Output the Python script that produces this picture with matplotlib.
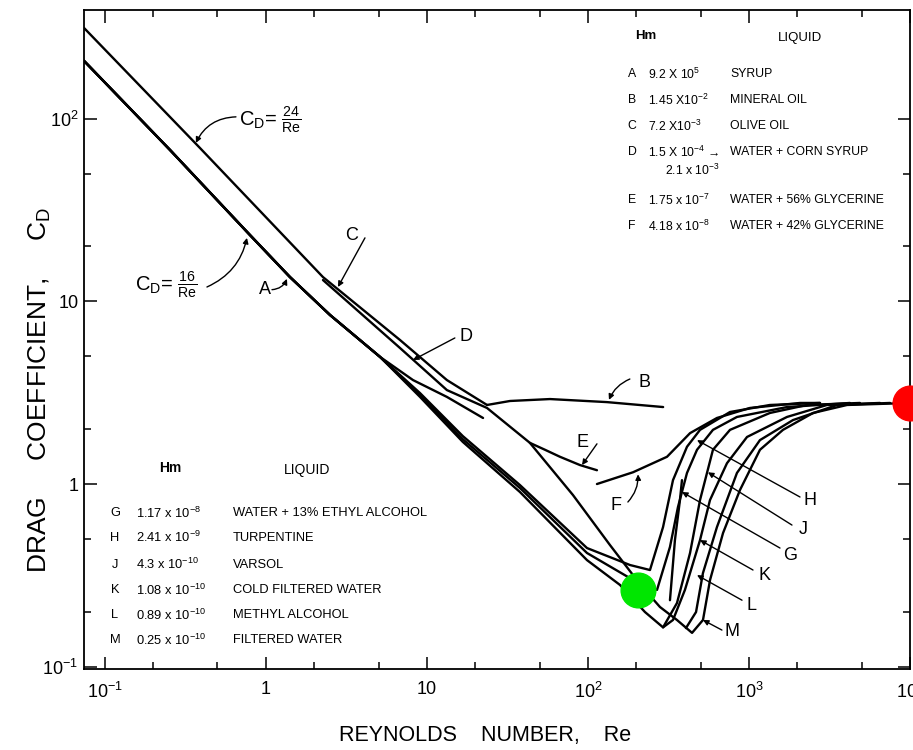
import matplotlib
matplotlib.use("Agg")
import matplotlib.pyplot as plt
from matplotlib import font_manager
from matplotlib.ticker import FixedLocator, NullFormatter


# Curves (Re, C_D)

# upper straight line (C_D = 24/Re) which carries on as curve C
re_upper = [0.0741, 0.389, 2.26, 6.80, 13.3, 23.6]
cd_upper = [315, 69.3, 13.6, 6.15, 3.71, 2.71]

# curve B (mineral oil)
re_B = [23.6, 32.8, 58.1, 131, 293]
cd_B = [2.71, 2.85, 2.92, 2.81, 2.64]

# second line of the upper pair, falls down to the minimum and rises as M
re_M = [2.26, 6.80, 13.3, 23.6, 43.6, 80.7, 137, 190.5, 232, 280, 357, 443,
        518, 573, 690, 879, 1170, 1626, 2500, 4064, 10000]
cd_M = [13.1, 5.56, 3.27, 2.61, 1.68, 0.870, 0.463, 0.317, 0.256, 0.212,
        0.180, 0.153, 0.180, 0.298, 0.539, 0.927, 1.54, 1.98, 2.45, 2.71, 2.78]

# lower straight line (C_D = 16/Re), common start of the lower bundle
re_16 = [0.0741, 0.2535, 0.796, 1.41, 2.50, 5.11]
cd_16 = [208, 67.6, 23.1, 13.6, 8.43, 4.97]

# curve D (short, ends near Re = 22)
re_D = re_16 + [8.19, 13.3, 22.3]
cd_D = cd_16 + [3.71, 3.00, 2.30]

# curve H
re_H = re_16 + [9.05, 16.7, 37.8, 98.6, 182.4, 242.7, 292.6, 337.3, 412.1,
                496.5, 762.3, 1349, 2761]
cd_H = cd_16 + [3.15, 1.83, 0.987, 0.446, 0.360, 0.338, 0.581, 1.05, 1.60,
                1.98, 2.48, 2.71, 2.78]

# middle line of the bundle
re_mid = re_16 + [9.05, 16.7, 37.8, 98.6, 182.4, 268.4, 323.0, 362.2, 412.1,
                  475.6, 597.3, 841.9, 1722, 4238]
cd_mid = cd_16 + [3.07, 1.76, 0.951, 0.419, 0.305, 0.263, 0.452, 0.748, 1.15,
                  1.54, 1.98, 2.33, 2.64, 2.78]

# curve K (lowest of the bundle)
re_K = re_16 + [9.05, 16.7, 37.8, 98.6, 158.1, 225.9, 292.6, 337.3, 400.1,
                496.5, 572.6, 730.0, 972.3, 1722, 3050, 6512]
cd_K = cd_16 + [3.00, 1.70, 0.904, 0.383, 0.280, 0.199, 0.164, 0.180, 0.263,
                0.493, 0.817, 1.30, 1.81, 2.33, 2.71, 2.78]

re_J = [292.6, 357.2, 430.5, 496.5, 597.3, 762.3, 1349, 2293, 4890]
cd_J = [0.164, 0.223, 0.419, 0.817, 1.54, 1.98, 2.45, 2.71, 2.78]

re_L = [406, 469, 517.6, 632.4, 841.9, 1170, 1876, 3522, 7516]
cd_L = [0.1625, 0.199, 0.325, 0.581, 1.15, 1.74, 2.24, 2.71, 2.78]

re_G = [323.0, 346.8, 372.6, 383.5]
cd_G = [0.231, 0.493, 0.817, 1.05]

re_E = [43.6, 54.1, 67.0, 89.2, 113.7]
cd_E = [1.68, 1.54, 1.41, 1.27, 1.19]

re_F = [113.7, 190.5, 309.7, 430.5, 632.4, 1014, 2074, 2761]
cd_F = [1.0, 1.16, 1.41, 1.90, 2.30, 2.61, 2.78, 2.78]

# coloured markers
re_green = [204.6]
cd_green = [0.263]
re_red = [10000]
cd_red = [2.78]

# axis ticks
x_major = [0.1, 1, 10, 100, 1000, 10000]
x_labels = ['10$^{-1}$', '1', '10', '10$^2$', '10$^3$', '10$^4$']
x_minor = [0.2, 0.5, 2, 5, 20, 50, 200, 500, 2000, 5000]
y_major = [0.1, 1, 10, 100]
y_labels = ['10$^{-1}$', '1', '10', '10$^2$']
y_minor = [0.2, 0.5, 2, 5, 20, 50]

# tables of liquids
top_letters = ['A', 'B', 'C', 'D', 'E', 'F']
top_hm = ['9.2 X 10$^5$', '1.45 X10$^{-2}$', '7.2 X10$^{-3}$',
          '1.5 X 10$^{-4}$ \u2192', '1.75 x 10$^{-7}$', '4.18 x 10$^{-8}$']
top_liquid = ['SYRUP', 'MINERAL OIL', 'OLIVE OIL', 'WATER + CORN SYRUP',
              'WATER + 56% GLYCERINE', 'WATER + 42% GLYCERINE']

bot_letters = ['G', 'H', 'J', 'K', 'L', 'M']
bot_hm = ['1.17 x 10$^{-8}$', '2.41 x 10$^{-9}$', '4.3 x 10$^{-10}$',
          '1.08 x 10$^{-10}$', '0.89 x 10$^{-10}$', '0.25 x 10$^{-10}$']
bot_liquid = ['WATER + 13% ETHYL ALCOHOL', 'TURPENTINE', 'VARSOL',
              'COLD FILTERED WATER', 'METHYL ALCOHOL', 'FILTERED WATER']


# Fonts (narrow face if there is one)

names = {f.name for f in font_manager.fontManager.ttflist}
font = 'Liberation Sans Narrow' if 'Liberation Sans Narrow' in names else 'Liberation Sans'
plt.rcParams['font.family'] = [font, 'DejaVu Sans']
plt.rcParams['mathtext.fontset'] = 'custom'
plt.rcParams['mathtext.rm'] = font
plt.rcParams['mathtext.it'] = font + ':italic'
plt.rcParams['mathtext.default'] = 'regular'


# Plot

fig = plt.figure(figsize=(9.13, 7.5), dpi=100)
ax = fig.add_axes([0.092, 0.108, 0.9047, 0.8787])
ax.set_xscale('log')
ax.set_yscale('log')
ax.set_xlim(0.0741, 1e4)
ax.set_ylim(0.097, 395)

curves = [(re_upper, cd_upper), (re_B, cd_B), (re_M, cd_M), (re_D, cd_D),
          (re_H, cd_H), (re_mid, cd_mid), (re_K, cd_K), (re_J, cd_J),
          (re_L, cd_L), (re_G, cd_G), (re_E, cd_E), (re_F, cd_F)]
for re, cd in curves:
    ax.plot(re, cd, color='black', lw=1.7, solid_joinstyle='round',
            solid_capstyle='round')

ax.plot(re_green, cd_green, 'o', color='#00e600', ms=25, zorder=5)
ax.plot(re_red, cd_red, 'o', color='#ff0000', ms=25, zorder=5, clip_on=False)

# ticks
ax.xaxis.set_major_locator(FixedLocator(x_major))
ax.set_xticklabels(x_labels)
ax.xaxis.set_minor_locator(FixedLocator(x_minor))
ax.xaxis.set_minor_formatter(NullFormatter())
ax.yaxis.set_major_locator(FixedLocator(y_major))
ax.set_yticklabels(y_labels)
ax.yaxis.set_minor_locator(FixedLocator(y_minor))
ax.yaxis.set_minor_formatter(NullFormatter())
ax.tick_params(which='both', direction='in', top=True, right=True, width=1.1)
ax.tick_params(which='major', length=9, labelsize=13)
ax.tick_params(which='minor', length=5)
ax.tick_params(axis='x', which='major', pad=9)
ax.tick_params(axis='y', which='major', pad=4)
for s in ax.spines.values():
    s.set_linewidth(1.3)

# axis titles
fig.text(0.531, 0.02, 'REYNOLDS    NUMBER,    Re', fontsize=15.5,
         ha='center', va='center')
fig.text(0.044, 0.48, 'DRAG     COEFFICIENT,     C$_D$', fontsize=19,
         rotation=90, ha='center', va='center')

# curve labels with leaders
arrow = dict(arrowstyle='-|>', color='black', lw=1.0, mutation_scale=8,
             shrinkA=0, shrinkB=0)


def leader(start, tip, rad):
    a = dict(arrow)
    a['connectionstyle'] = 'arc3,rad=%s' % rad
    ax.annotate('', xy=tip, xytext=start, arrowprops=a)


ax.text(0.68, 98.7, r'C$_D$= $\frac{24}{Re}$', fontsize=14.5, ha='left', va='center')
leader((0.651, 102.6), (0.367, 73.9), 0.3)
ax.text(0.1535, 12.3, r'C$_D$= $\frac{16}{Re}$', fontsize=14.5, ha='left', va='center')
leader((0.430, 12.0), (0.762, 22.3), 0.25)

labels = [('A', (0.99, 11.6), (1.09, 11.6), (1.35, 13.3), 0.3),
          ('C', (3.42, 23.1), (4.12, 22.3), (2.80, 12.0), 0.0),
          ('D', (17.5, 6.39), (14.9, 6.31), (8.19, 4.78), 0.0),
          ('B', (226, 3.62), (182, 3.76), (135, 2.89), 0.2),
          ('E', (93.1, 1.68), (113.7, 1.66), (91.8, 1.27), 0.0),
          ('F', (149, 0.767), (177, 0.797), (204.6, 1.13), 0.2),
          ('H', (2393, 0.817), (2074, 0.849), (475.6, 1.74), 0.0),
          ('J', (2164, 0.560), (1849, 0.596), (556, 1.16), 0.0),
          ('G', (1798, 0.408), (1558, 0.446), (383.5, 0.904), 0.0),
          ('K', (1257, 0.317), (1059, 0.338), (496.5, 0.493), 0.0),
          ('L', (1044, 0.217), (905, 0.231), (475.6, 0.317), 0.0),
          ('M', (784, 0.155), (679, 0.1585), (517.6, 0.180), 0.0)]
for name, pos, start, tip, rad in labels:
    ax.text(pos[0], pos[1], name, fontsize=13, ha='center', va='center')
    leader(start, tip, rad)

# top right table
fs_top = 8.8
fig.text(0.7076, 0.952, 'Hm', fontsize=9.5, fontweight='bold', ha='center', va='center')
fig.text(0.8762, 0.949, 'LIQUID', fontsize=9.5, ha='center', va='center')
top_rows = [0.9013, 0.8667, 0.832, 0.7973, 0.7333, 0.6987]
for i in range(len(top_letters)):
    fig.text(0.6922, top_rows[i], top_letters[i], fontsize=fs_top, ha='center', va='center')
    fig.text(0.7097, top_rows[i], top_hm[i], fontsize=fs_top, ha='left', va='center')
    fig.text(0.7996, top_rows[i], top_liquid[i], fontsize=fs_top, ha='left', va='center')
fig.text(0.7284, 0.7733, '2.1 x 10$^{-3}$', fontsize=fs_top, ha='left', va='center')

# bottom left table
fs_bot = 9.3
fig.text(0.186, 0.376, 'Hm', fontsize=10, fontweight='bold', ha='center', va='center')
fig.text(0.336, 0.373, 'LIQUID', fontsize=10, ha='center', va='center')
bot_rows = [0.316, 0.283, 0.247, 0.2133, 0.18, 0.1467]
for i in range(len(bot_letters)):
    fig.text(0.126, bot_rows[i], bot_letters[i], fontsize=fs_bot, ha='center', va='center')
    fig.text(0.149, bot_rows[i], bot_hm[i], fontsize=fs_bot, ha='left', va='center')
    fig.text(0.255, bot_rows[i], bot_liquid[i], fontsize=fs_bot, ha='left', va='center')

fig.savefig('out.png', dpi=100)
